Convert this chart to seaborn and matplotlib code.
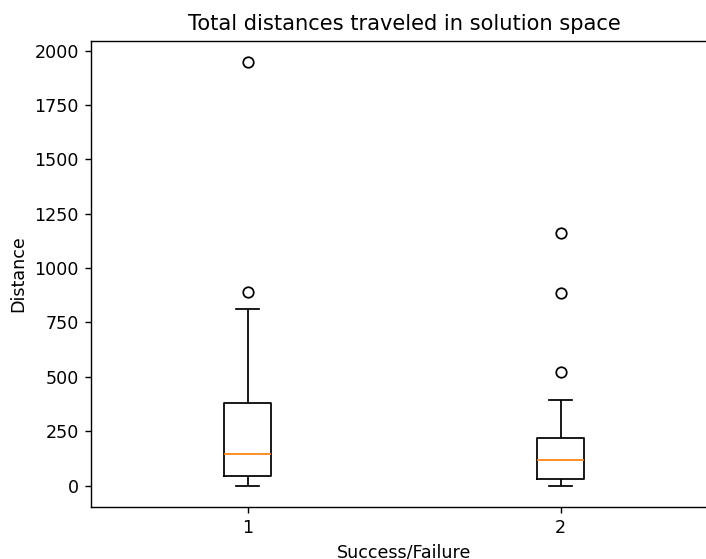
import numpy as np
import pandas as pd
import matplotlib
matplotlib.use("Agg")
import matplotlib.pyplot as plt
import seaborn as sns

# Categories and values (estimated from the reference box plot)
groups = ["1", "2"]
success = [0, 12, 25, 42, 70, 110, 146, 200, 290, 378, 810, 890, 1948]
failure = [0, 8, 15, 24, 32, 50, 70, 95, 117, 140, 165, 195, 218, 395, 520, 883, 1159]

title = "Total distances traveled in solution space"
xlabel = "Success/Failure"
ylabel = "Distance"

df = pd.DataFrame({
    "group": [groups[0]] * len(success) + [groups[1]] * len(failure),
    "Distance": success + failure,
})

DPI = 126
fig = plt.figure(figsize=(706 / DPI, 559 / DPI), dpi=DPI)
ax = fig.add_axes([91 / 706, (559 - 506.7) / 559, 626 / 706, 466 / 559])

sns.boxplot(
    data=df, x="group", y="Distance", order=groups, ax=ax,
    width=0.15, fill=False, color="black", linewidth=1.0, whis=1.5,
    medianprops=dict(color="#ff7f0e"),
    flierprops=dict(marker="o", markerfacecolor="none",
                    markeredgecolor="black", markersize=6),
)
ax.set_xlim(-0.5, 1.5)
ax.set_title(title)
ax.set_xlabel(xlabel)
ax.set_ylabel(ylabel)

fig.savefig("out.png", dpi=DPI)
